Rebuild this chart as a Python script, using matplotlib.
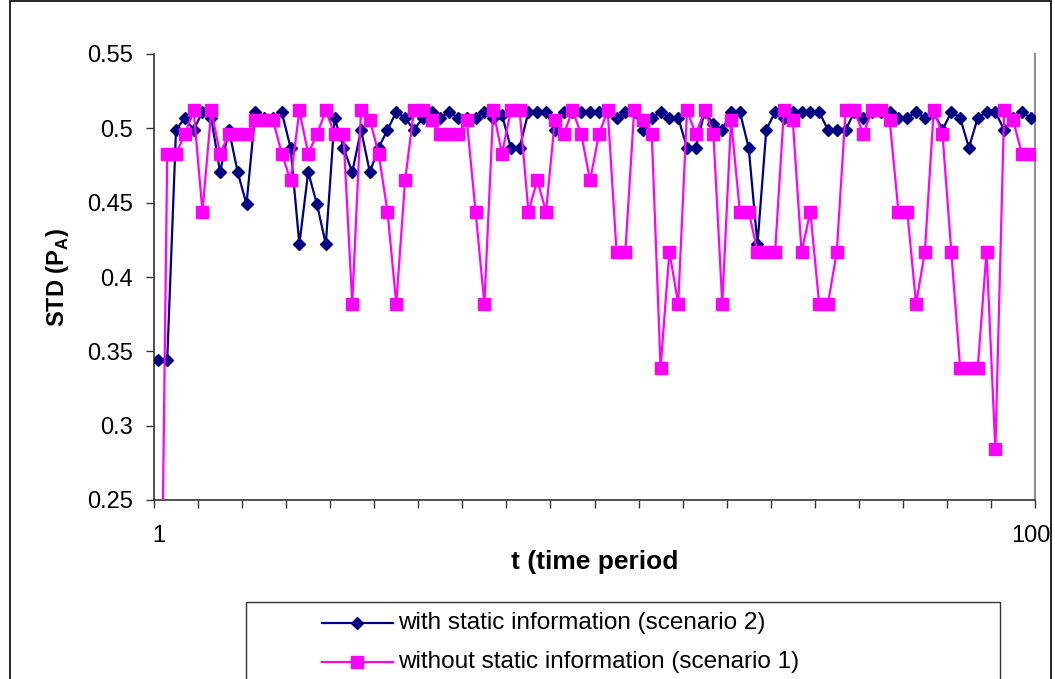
import numpy as np
import matplotlib
matplotlib.use("Agg")
import matplotlib.pyplot as plt
from matplotlib.lines import Line2D
from matplotlib.patches import Rectangle

plt.rcParams["font.family"] = ["Liberation Sans", "DejaVu Sans"]
plt.rcParams["mathtext.fontset"] = "custom"
plt.rcParams["mathtext.rm"] = "Liberation Sans"
plt.rcParams["mathtext.bf"] = "Liberation Sans:bold"

# ---------------- data ----------------
t = list(range(1, 101))

with_static = [
    0.344, 0.344, 0.499, 0.507, 0.499, 0.511, 0.507, 0.4705, 0.499, 0.4705,
    0.449, 0.511, 0.507, 0.507, 0.511, 0.487, 0.422, 0.4705, 0.449, 0.422,
    0.507, 0.487, 0.4705, 0.499, 0.4705, 0.487, 0.499, 0.511, 0.507, 0.499,
    0.507, 0.511, 0.507, 0.511, 0.507, 0.507, 0.507, 0.511, 0.507, 0.509,
    0.487, 0.487, 0.511, 0.511, 0.511, 0.499, 0.511, 0.511, 0.511, 0.511,
    0.511, 0.511, 0.507, 0.511, 0.511, 0.499, 0.507, 0.511, 0.507, 0.507,
    0.487, 0.487, 0.511, 0.503, 0.499, 0.511, 0.511, 0.487, 0.422, 0.499,
    0.511, 0.507, 0.511, 0.511, 0.511, 0.511, 0.499, 0.499, 0.499, 0.511,
    0.507, 0.511, 0.511, 0.511, 0.507, 0.507, 0.511, 0.507, 0.511, 0.499,
    0.511, 0.507, 0.487, 0.507, 0.511, 0.511, 0.499, 0.507, 0.511, 0.507,
]

without_static = [
    0.0, 0.483, 0.483, 0.496, 0.512, 0.444, 0.512, 0.483, 0.496, 0.496,
    0.496, 0.5057, 0.5057, 0.5057, 0.483, 0.465, 0.512, 0.483, 0.496, 0.512,
    0.496, 0.496, 0.382, 0.512, 0.5057, 0.483, 0.444, 0.382, 0.465, 0.512,
    0.512, 0.5057, 0.496, 0.496, 0.496, 0.5057, 0.444, 0.382, 0.512, 0.483,
    0.512, 0.512, 0.444, 0.465, 0.444, 0.5057, 0.496, 0.512, 0.496, 0.465,
    0.496, 0.512, 0.417, 0.417, 0.512, 0.5057, 0.496, 0.339, 0.417, 0.382,
    0.512, 0.496, 0.512, 0.496, 0.382, 0.5057, 0.444, 0.444, 0.417, 0.417,
    0.417, 0.512, 0.5057, 0.417, 0.444, 0.382, 0.382, 0.417, 0.512, 0.512,
    0.496, 0.512, 0.512, 0.5057, 0.444, 0.444, 0.382, 0.417, 0.512, 0.496,
    0.417, 0.339, 0.339, 0.339, 0.417, 0.284, 0.512, 0.5057, 0.483, 0.483,
]

y_ticks = [0.25, 0.3, 0.35, 0.4, 0.45, 0.5, 0.55]
y_ticklabels = ["0.25", "0.3", "0.35", "0.4", "0.45", "0.5", "0.55"]
x_labelled = [1, 100]
x_ticklabels = ["1", "100"]

label_with = "with static information (scenario 2)"
label_without = "without static information (scenario 1)"

NAVY = "#000080"
MAGENTA = "#FF00FF"

# ---------------- figure ----------------
W, H = 1055, 679
fig = plt.figure(figsize=(W / 100, H / 100), dpi=100)
fig.patch.set_facecolor("white")

def fx(px):
    return px / W

def fy(py):
    return 1 - py / H

L, R, T, B = 154, 1035, 54, 500
ax = fig.add_axes([fx(L), fy(B), (R - L) / W, (B - T) / H])

ax.plot(t, with_static, color=NAVY, lw=1.6, marker="D", ms=6.0,
        mfc=NAVY, mec=NAVY, zorder=3)
ax.plot(t, without_static, color=MAGENTA, lw=1.6, marker="s", ms=9.0,
        mfc=MAGENTA, mec=MAGENTA, zorder=4)

ax.set_xlim(0.5, 100.5)
ax.set_ylim(0.25, 0.55)

ax.set_yticks(y_ticks)
ax.set_yticklabels(y_ticklabels)
ax.set_xticks(x_labelled)
ax.set_xticklabels(x_ticklabels)
ax.set_xticks(np.arange(0.5, 101, 5), minor=True)
ax.tick_params(axis="x", which="major", length=0, pad=18, labelsize=17)
ax.tick_params(axis="x", which="minor", length=6, width=1.0,
               direction="out", color="#333333")
ax.tick_params(axis="y", which="major", length=6, width=1.0,
               direction="out", color="#333333", pad=9, labelsize=17)

for s in ["left", "bottom"]:
    ax.spines[s].set_color("#333333")
    ax.spines[s].set_linewidth(1.2)
ax.spines["right"].set_color("#909090")
ax.spines["right"].set_linewidth(1.5)
ax.spines["top"].set_visible(False)

ax.set_xlabel("t (time period", fontsize=19, fontweight="bold", labelpad=2)
ax.set_ylabel(r"STD (P$_\mathbf{A}$)", fontsize=17, fontweight="bold",
              labelpad=12)

# ---------------- outer chart border ----------------
fig.add_artist(Rectangle((fx(10), fy(700)), fx(1051) - fx(10), fy(1) - fy(700),
                         transform=fig.transFigure, fill=False,
                         edgecolor="black", lw=1.2))

# ---------------- legend (drawn manually) ----------------
fig.add_artist(Rectangle((fx(246), fy(720)), fx(1000) - fx(246), fy(602) - fy(720),
                         transform=fig.transFigure, fill=False,
                         edgecolor="#333333", lw=1.0))
rows = [(623, NAVY, "D", 6.0, label_with), (662, MAGENTA, "s", 9.0, label_without)]
for py, col, mk, ms, lab in rows:
    fig.add_artist(Line2D([fx(322), fx(393)], [fy(py), fy(py)],
                          transform=fig.transFigure, color=col, lw=1.6))
    fig.add_artist(Line2D([fx(357)], [fy(py)], transform=fig.transFigure,
                          color=col, marker=mk, ms=ms, mfc=col, mec=col, lw=0))
    fig.text(fx(398), fy(py), lab, fontsize=17.5, va="center", ha="left")

fig.savefig("out.png", dpi=100)
